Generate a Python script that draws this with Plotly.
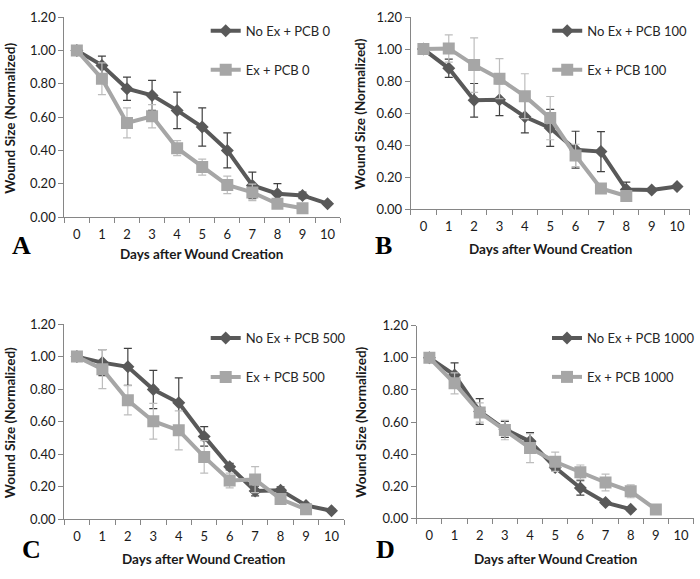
import plotly.graph_objects as go

days = list(range(11))
tick_labels = [str(d) for d in days]
y_ticks = [0.0, 0.2, 0.4, 0.6, 0.8, 1.0, 1.2]
y_tick_labels = ["0.00", "0.20", "0.40", "0.60", "0.80", "1.00", "1.20"]

# Panel A (PCB 0)
A_noex = [1.00, 0.91, 0.77, 0.73, 0.64, 0.54, 0.40, 0.19, 0.14, 0.13, 0.08]
A_noex_err = [0, 0.055, 0.07, 0.09, 0.11, 0.115, 0.105, 0.08, 0.06, 0.02, 0.01]
A_ex = [1.00, 0.83, 0.565, 0.605, 0.413, 0.30, 0.193, 0.148, 0.08, 0.053]
A_ex_err = [0, 0.095, 0.09, 0.07, 0.045, 0.048, 0.053, 0.05, 0.02, 0.01]

# Panel B (PCB 100)
B_noex = [1.00, 0.88, 0.68, 0.684, 0.577, 0.508, 0.372, 0.36, 0.123, 0.12, 0.142]
B_noex_err = [0, 0.057, 0.105, 0.10, 0.10, 0.115, 0.115, 0.125, 0.047, 0.01, 0.01]
B_ex = [1.00, 1.004, 0.90, 0.815, 0.706, 0.569, 0.336, 0.13, 0.083]
B_ex_err = [0, 0.085, 0.17, 0.125, 0.14, 0.135, 0.07, 0.02, 0.02]

# Panel C (PCB 500)
C_noex = [1.00, 0.963, 0.937, 0.798, 0.716, 0.51, 0.324, 0.175, 0.18, 0.086, 0.054]
C_noex_err = [0, 0.08, 0.113, 0.117, 0.153, 0.06, 0.02, 0.03, 0.02, 0.01, 0.01]
C_ex = [1.00, 0.923, 0.732, 0.603, 0.547, 0.384, 0.239, 0.245, 0.125, 0.062]
C_ex_err = [0, 0.12, 0.09, 0.11, 0.12, 0.10, 0.045, 0.08, 0.02, 0.01]

# Panel D (PCB 1000)
D_noex = [1.00, 0.893, 0.666, 0.555, 0.48, 0.317, 0.19, 0.099, 0.058]
D_noex_err = [0, 0.075, 0.08, 0.05, 0.055, 0.02, 0.045, 0.01, 0.01]
D_ex = [1.00, 0.841, 0.66, 0.55, 0.438, 0.353, 0.288, 0.224, 0.169, 0.056]
D_ex_err = [0, 0.065, 0.06, 0.06, 0.09, 0.06, 0.045, 0.052, 0.04, 0.01]

names = [("No Ex + PCB 0", "Ex + PCB 0"), ("No Ex + PCB 100", "Ex + PCB 100"),
         ("No Ex + PCB 500", "Ex + PCB 500"), ("No Ex + PCB 1000", "Ex + PCB 1000")]
panel_letters = ["A", "B", "C", "D"]
panels = [(A_noex, A_noex_err, A_ex, A_ex_err), (B_noex, B_noex_err, B_ex, B_ex_err),
          (C_noex, C_noex_err, C_ex, C_ex_err), (D_noex, D_noex_err, D_ex, D_ex_err)]

W, H = 700, 579
# pixel layout: (x_left, x_right, y_top(1.2), y_bottom(0))
boxes = [(64.4, 340.6, 9.3, 215), (411.3, 690.7, 9.3, 207),
         (64.3, 344.7, 325, 526), (417.4, 694.6, 326.7, 525)]
ytitle_pos = [(10, 113), (361, 109), (10, 426), (362, 426)]
xtitle_pos = [(202, 253), (551, 248), (204, 567), (556, 567)]
letter_pos = [(22, 244), (384, 244), (32, 557), (386, 557)]
legend_pos = [(206, 8), (548, 8), (206, 324), (548, 324)]

DARK = "#595959"
LIGHT = "#a6a6a6"
FONT = "Lato"

fig = go.Figure()
for i, (noex, noex_err, ex, ex_err) in enumerate(panels):
    sfx = "" if i == 0 else str(i + 1)
    leg = "legend" if i == 0 else f"legend{i + 1}"
    fig.add_trace(go.Scatter(
        x=days[:len(noex)], y=noex, mode="lines+markers", name=names[i][0],
        line=dict(color=DARK, width=4),
        marker=dict(symbol="diamond", size=10, color=DARK),
        error_y=dict(type="data", array=noex_err, visible=True, color="#404040", thickness=1.2, width=4),
        xaxis="x" + sfx, yaxis="y" + sfx, legend=leg, legendgroup=f"g{i}a"))
    fig.add_trace(go.Scatter(
        x=days[:len(ex)], y=ex, mode="lines+markers", name=names[i][1],
        line=dict(color=LIGHT, width=4),
        marker=dict(symbol="square", size=12, color=LIGHT),
        error_y=dict(type="data", array=ex_err, visible=True, color="#bdbdbd", thickness=1.2, width=4),
        xaxis="x" + sfx, yaxis="y" + sfx, legend=leg, legendgroup=f"g{i}b"))

layout = dict(width=W, height=H, margin=dict(l=0, r=0, t=0, b=0),
              paper_bgcolor="white", plot_bgcolor="white", showlegend=True,
              font=dict(family=FONT, size=13, color="#1a1a1a"))
annotations = []
for i, (xl, xr, yt, yb) in enumerate(boxes):
    sfx = "" if i == 0 else str(i + 1)
    layout["xaxis" + sfx] = dict(
        domain=[xl / W, xr / W], range=[-0.5, 10.5], anchor="y" + sfx,
        tickmode="array", tickvals=days, ticktext=tick_labels,
        ticks="outside", ticklen=5, tickcolor="rgba(0,0,0,0)",
        minor=dict(tickmode="array", tickvals=[d - 0.5 for d in range(12)], ticks="outside",
                   ticklen=5, tickcolor="#868686", showgrid=False),
        showline=True, linecolor="#868686", linewidth=1, showgrid=False, zeroline=False,
        ticklabelstandoff=0, tickfont=dict(size=13, color="#1a1a1a"), fixedrange=True)
    layout["yaxis" + sfx] = dict(
        domain=[1 - yb / H, 1 - yt / H], range=[0, 1.2], anchor="x" + sfx,
        tickmode="array", tickvals=y_ticks, ticktext=y_tick_labels,
        ticks="outside", ticklen=5, tickcolor="#868686",
        showline=True, linecolor="#868686", linewidth=1, showgrid=False, zeroline=False,
        tickfont=dict(size=13, color="#1a1a1a"), fixedrange=True)
    leg = "legend" if i == 0 else f"legend{i + 1}"
    lx, ly = legend_pos[i]
    layout[leg] = dict(x=lx / W, y=1 - ly / H, xanchor="left", yanchor="top",
                       bgcolor="rgba(0,0,0,0)", tracegroupgap=19,
                       font=dict(family=FONT, size=13, color="#262626"))
    tx, ty = ytitle_pos[i]
    annotations.append(dict(x=tx / W, y=1 - ty / H, xref="paper", yref="paper", textangle=-90,
                            text="<b>Wound Size (Normalized)</b>", showarrow=False,
                            font=dict(family=FONT, size=13.5, color="#1a1a1a"),
                            xanchor="center", yanchor="middle"))
    tx, ty = xtitle_pos[i]
    annotations.append(dict(x=tx / W, y=1 - ty / H, xref="paper", yref="paper",
                            text="<b>Days after Wound Creation</b>", showarrow=False,
                            font=dict(family=FONT, size=13.5, color="#1a1a1a"),
                            xanchor="center", yanchor="middle"))
    tx, ty = letter_pos[i]
    annotations.append(dict(x=tx / W, y=1 - ty / H, xref="paper", yref="paper",
                            text=f"<b>{panel_letters[i]}</b>", showarrow=False,
                            font=dict(family="Liberation Serif", size=26, color="#000000"),
                            xanchor="center", yanchor="middle"))
layout["annotations"] = annotations
fig.update_layout(**layout)
fig.write_html("out.html", post_script="document.body.style.margin='0px';",
               config={"displayModeBar": False})
